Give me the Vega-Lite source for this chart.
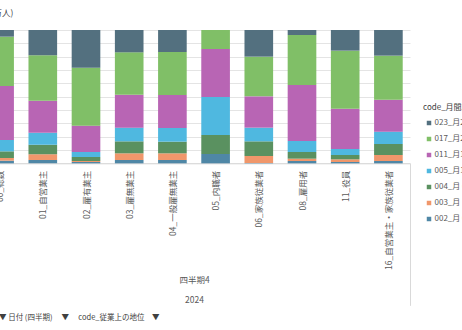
{
  "$schema": "https://vega.github.io/schema/vega-lite/v6.json",
  "width": 432,
  "height": 133.33,
  "autosize": {"type": "none"},
  "padding": {"left": -22, "top": 30, "right": 52, "bottom": 166.67},
  "background": "#ffffff",
  "config": {
    "font": "Noto Sans CJK JP",
    "view": {"stroke": null}
  },
  "title": {
    "text": "▼\u00a0日付 (四半期)\u2002\u2002\u00a0▼\u2002\u2002\u00a0code_従業上の地位\u2002\u2002▼",
    "orient": "bottom",
    "anchor": "start",
    "frame": "group",
    "fontSize": 7.5,
    "fontWeight": "normal",
    "color": "#404040",
    "dx": 21,
    "offset": 8
  },
  "data": {
    "values": [
      {"status": "00_総数", "hours": "002_月 0時間", "share": 2},
      {"status": "00_総数", "hours": "003_月 1～59時間", "share": 2},
      {"status": "00_総数", "hours": "004_月 60～99時間", "share": 5},
      {"status": "00_総数", "hours": "005_月100～159時間", "share": 8.5},
      {"status": "00_総数", "hours": "011_月160～199時間", "share": 40.5},
      {"status": "00_総数", "hours": "017_月200～249時間", "share": 37},
      {"status": "00_総数", "hours": "023_月250時間以上", "share": 5},

      {"status": "01_自営業主", "hours": "002_月 0時間", "share": 2.5},
      {"status": "01_自営業主", "hours": "003_月 1～59時間", "share": 4.25},
      {"status": "01_自営業主", "hours": "004_月 60～99時間", "share": 7.25},
      {"status": "01_自営業主", "hours": "005_月100～159時間", "share": 9},
      {"status": "01_自営業主", "hours": "011_月160～199時間", "share": 24},
      {"status": "01_自営業主", "hours": "017_月200～249時間", "share": 34},
      {"status": "01_自営業主", "hours": "023_月250時間以上", "share": 19},

      {"status": "02_雇有業主", "hours": "002_月 0時間", "share": 1},
      {"status": "02_雇有業主", "hours": "003_月 1～59時間", "share": 0.75},
      {"status": "02_雇有業主", "hours": "004_月 60～99時間", "share": 3},
      {"status": "02_雇有業主", "hours": "005_月100～159時間", "share": 3.75},
      {"status": "02_雇有業主", "hours": "011_月160～199時間", "share": 19.75},
      {"status": "02_雇有業主", "hours": "017_月200～249時間", "share": 43.5},
      {"status": "02_雇有業主", "hours": "023_月250時間以上", "share": 28.25},

      {"status": "03_雇無業主", "hours": "002_月 0時間", "share": 2.5},
      {"status": "03_雇無業主", "hours": "003_月 1～59時間", "share": 5},
      {"status": "03_雇無業主", "hours": "004_月 60～99時間", "share": 9},
      {"status": "03_雇無業主", "hours": "005_月100～159時間", "share": 10.25},
      {"status": "03_雇無業主", "hours": "011_月160～199時間", "share": 24.75},
      {"status": "03_雇無業主", "hours": "017_月200～249時間", "share": 31.75},
      {"status": "03_雇無業主", "hours": "023_月250時間以上", "share": 16.75},

      {"status": "04_一般雇無業主", "hours": "002_月 0時間", "share": 2.5},
      {"status": "04_一般雇無業主", "hours": "003_月 1～59時間", "share": 5},
      {"status": "04_一般雇無業主", "hours": "004_月 60～99時間", "share": 8.75},
      {"status": "04_一般雇無業主", "hours": "005_月100～159時間", "share": 10.25},
      {"status": "04_一般雇無業主", "hours": "011_月160～199時間", "share": 24.75},
      {"status": "04_一般雇無業主", "hours": "017_月200～249時間", "share": 32.25},
      {"status": "04_一般雇無業主", "hours": "023_月250時間以上", "share": 16.5},

      {"status": "05_内職者", "hours": "002_月 0時間", "share": 7},
      {"status": "05_内職者", "hours": "003_月 1～59時間", "share": 0},
      {"status": "05_内職者", "hours": "004_月 60～99時間", "share": 14.25},
      {"status": "05_内職者", "hours": "005_月100～159時間", "share": 28.5},
      {"status": "05_内職者", "hours": "011_月160～199時間", "share": 36},
      {"status": "05_内職者", "hours": "017_月200～249時間", "share": 14.25},
      {"status": "05_内職者", "hours": "023_月250時間以上", "share": 0},

      {"status": "06_家族従業者", "hours": "002_月 0時間", "share": 0.25},
      {"status": "06_家族従業者", "hours": "003_月 1～59時間", "share": 5.25},
      {"status": "06_家族従業者", "hours": "004_月 60～99時間", "share": 11},
      {"status": "06_家族従業者", "hours": "005_月100～159時間", "share": 10.25},
      {"status": "06_家族従業者", "hours": "011_月160～199時間", "share": 23.5},
      {"status": "06_家族従業者", "hours": "017_月200～249時間", "share": 29.75},
      {"status": "06_家族従業者", "hours": "023_月250時間以上", "share": 20},

      {"status": "08_雇用者", "hours": "002_月 0時間", "share": 1.75},
      {"status": "08_雇用者", "hours": "003_月 1～59時間", "share": 1.75},
      {"status": "08_雇用者", "hours": "004_月 60～99時間", "share": 5},
      {"status": "08_雇用者", "hours": "005_月100～159時間", "share": 8.25},
      {"status": "08_雇用者", "hours": "011_月160～199時間", "share": 42},
      {"status": "08_雇用者", "hours": "017_月200～249時間", "share": 37.5},
      {"status": "08_雇用者", "hours": "023_月250時間以上", "share": 3.75},

      {"status": "11_役員", "hours": "002_月 0時間", "share": 1},
      {"status": "11_役員", "hours": "003_月 1～59時間", "share": 2},
      {"status": "11_役員", "hours": "004_月 60～99時間", "share": 3.25},
      {"status": "11_役員", "hours": "005_月100～159時間", "share": 4.5},
      {"status": "11_役員", "hours": "011_月160～199時間", "share": 30.25},
      {"status": "11_役員", "hours": "017_月200～249時間", "share": 43.5},
      {"status": "11_役員", "hours": "023_月250時間以上", "share": 15.5},

      {"status": "16_自営業主・家族従業者", "hours": "002_月 0時間", "share": 1.75},
      {"status": "16_自営業主・家族従業者", "hours": "003_月 1～59時間", "share": 4.5},
      {"status": "16_自営業主・家族従業者", "hours": "004_月 60～99時間", "share": 8.25},
      {"status": "16_自営業主・家族従業者", "hours": "005_月100～159時間", "share": 9.25},
      {"status": "16_自営業主・家族従業者", "hours": "011_月160～199時間", "share": 24},
      {"status": "16_自営業主・家族従業者", "hours": "017_月200～249時間", "share": 33},
      {"status": "16_自営業主・家族従業者", "hours": "023_月250時間以上", "share": 19.25}
    ]
  },
  "mark": {"type": "bar"},
  "encoding": {
    "x": {
      "field": "status",
      "type": "nominal",
      "sort": null,
      "scale": {"paddingInner": 0.337, "paddingOuter": 0.1685},
      "axis": {
        "labelAngle": -90,
        "labelFontSize": 8.5,
        "labelColor": "#595959",
        "labelPadding": -135,
        "tickOffset": 21.6,
        "labelOffset": -21.6,
        "tickSize": 142,
        "tickColor": "#d9d9d9",
        "tickOpacity": {
          "condition": {"test": "datum.value === '16_自営業主・家族従業者'", "value": 1},
          "value": 0
        },
        "domainColor": "#d9d9d9",
        "title": ["四半期4", "2024"],
        "titleFontSize": 8.5,
        "titleFontWeight": "normal",
        "titleColor": "#595959",
        "titleLineHeight": 20,
        "titleBaseline": "top",
        "titleY": 112
      }
    },
    "y": {
      "field": "share",
      "type": "quantitative",
      "stack": "normalize",
      "axis": {
        "labels": false,
        "ticks": false,
        "domain": false,
        "values": [0, 0.1, 0.2, 0.3, 0.4, 0.5, 0.6, 0.7, 0.8, 0.9, 1],
        "gridColor": "#e4e4e4",
        "title": "合計 / 就業者数 (万人)",
        "titleAngle": 0,
        "titleAlign": "right",
        "titleBaseline": "middle",
        "titleX": 35,
        "titleY": -18,
        "titleFontSize": 8.5,
        "titleFontWeight": "normal",
        "titleColor": "#404040"
      }
    },
    "color": {
      "field": "hours",
      "type": "nominal",
      "scale": {
        "domain": ["023_月250時間以上", "017_月200～249時間", "011_月160～199時間", "005_月100～159時間", "004_月 60～99時間", "003_月 1～59時間", "002_月 0時間"],
        "range": ["#53707f", "#80bf67", "#b865b4", "#4fb8e0", "#5a9160", "#f0976b", "#4f87a6"]
      },
      "legend": {
        "orient": "none",
        "legendX": 445,
        "legendY": 73.5,
        "padding": 0,
        "title": "code_月間就業時間",
        "titleFontSize": 8,
        "titleFontWeight": "normal",
        "titleColor": "#404040",
        "titleBaseline": "top",
        "titlePadding": 7.5,
        "symbolType": "square",
        "symbolSize": 20,
        "symbolStrokeWidth": 0,
        "symbolOffset": 2,
        "labelFontSize": 8,
        "labelColor": "#595959",
        "labelOffset": 1.5,
        "rowPadding": 8
      }
    },
    "order": {"field": "hours", "sort": "ascending"}
  }
}
